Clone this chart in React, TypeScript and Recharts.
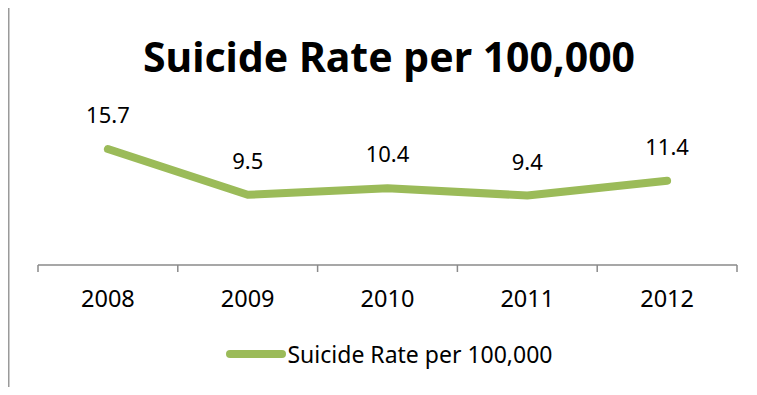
import { LabelList, Legend, Line, LineChart, XAxis, YAxis } from "recharts";

const years = ["2008", "2009", "2010", "2011", "2012"];
const rates = [15.7, 9.5, 10.4, 9.4, 11.4];
const seriesName = "Suicide Rate per 100,000";

const data = years.map((year, i) => ({ year, rate: rates[i] }));

const W = 757;
const H = 395;
const LEFT = 38;
const RIGHT = 20;
const GREEN = "#9BBB59";
const AXIS = "#8a8a8a";
const FONT = "'Noto Sans', sans-serif";
const BAND = (W - LEFT - RIGHT) / years.length;

function YearTick(props: any) {
  const { x, y, payload, index } = props;
  const half = BAND / 2;
  return (
    <g>
      <line x1={x - half} y1={y} x2={x - half} y2={y + 7} stroke={AXIS} strokeWidth={1.5} />
      {index === years.length - 1 && (
        <line x1={x + half} y1={y} x2={x + half} y2={y + 7} stroke={AXIS} strokeWidth={1.5} />
      )}
      <text x={x} y={y + 42} textAnchor="middle" fontFamily={FONT} fontSize={23.5} fill="#000">
        {payload.value}
      </text>
    </g>
  );
}

function ValueLabel(props: any) {
  const { x, y, value } = props;
  return (
    <text x={x} y={y - 26} textAnchor="middle" fontFamily={FONT} fontSize={22} fill="#000">
      {value}
    </text>
  );
}

function LegendBox() {
  return (
    <div
      style={{
        display: "flex",
        justifyContent: "center",
        alignItems: "center",
        boxSizing: "border-box",
        width: W,
        height: 30,
        paddingLeft: 22,
        lineHeight: "30px",
        fontFamily: FONT,
        fontSize: 23,
        color: "#000",
      }}
    >
      <svg width={60} height={10} style={{ display: "block", marginRight: 1 }}>
        <line x1={4} y1={5} x2={56} y2={5} stroke={GREEN} strokeWidth={8} strokeLinecap="round" />
      </svg>
      <span>{seriesName}</span>
    </div>
  );
}

export default function App() {
  return (
    <div style={{ position: "relative", width: W, height: H, margin: -8, background: "#fff" }}>
      <LineChart
        width={W}
        height={H}
        data={data}
        margin={{ top: 132, right: RIGHT, bottom: 0, left: LEFT }}
      >
        <XAxis
          dataKey="year"
          height={130}
          interval={0}
          padding={{ left: BAND / 2, right: BAND / 2 }}
          tickLine={false}
          tickSize={0}
          tickMargin={0}
          axisLine={{ stroke: AXIS, strokeWidth: 1.5 }}
          tick={<YearTick />}
        />
        <YAxis hide domain={[0, 18]} />
        <Legend
          verticalAlign="middle"
          align="center"
          layout="horizontal"
          wrapperStyle={{ top: 339, left: 0, width: W }}
          content={() => <LegendBox />}
        />
        <Line
          type="linear"
          dataKey="rate"
          name={seriesName}
          stroke={GREEN}
          strokeWidth={8}
          strokeLinecap="round"
          strokeLinejoin="round"
          dot={false}
          activeDot={false}
          isAnimationActive={false}
        >
          <LabelList dataKey="rate" content={<ValueLabel />} />
        </Line>
      </LineChart>
      <svg
        width={W}
        height={H}
        style={{ position: "absolute", left: 0, top: 0, pointerEvents: "none" }}
      >
        <path d={`M8.5,${H} L8.5,5 L${W},5`} fill="none" stroke="#9a9a9a" strokeWidth={2} />
        <text
          x={389}
          y={72}
          textAnchor="middle"
          fontFamily={FONT}
          fontSize={41}
          fontWeight="bold"
          fill="#000"
        >
          {seriesName}
        </text>
      </svg>
    </div>
  );
}
